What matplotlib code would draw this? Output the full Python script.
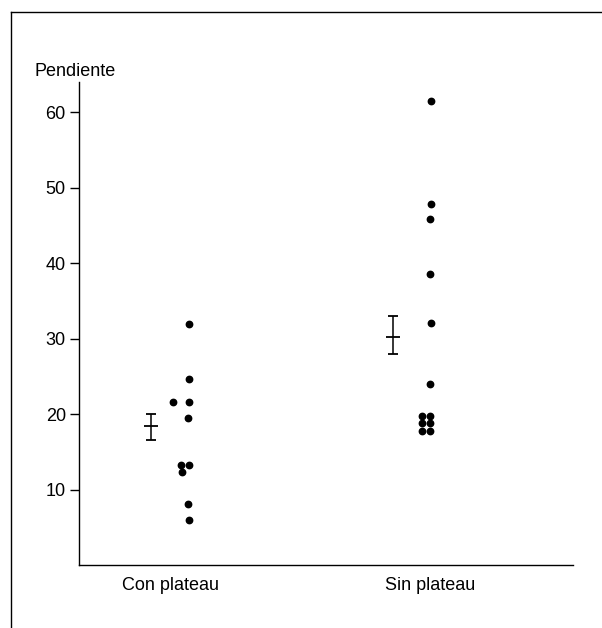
import numpy as np
import matplotlib
matplotlib.use("Agg")
import matplotlib.pyplot as plt
from matplotlib.lines import Line2D

plt.rcParams['font.family'] = ['Liberation Sans', 'DejaVu Sans']

# data
categories = ["Con plateau", "Sin plateau"]
cat_pos = [1.86, 7.1]

con_values = [31.9, 24.6, 21.6, 21.6, 19.5, 13.2, 13.2, 12.3, 8.1, 6.0]
con_x = [2.22, 2.22, 1.90, 2.22, 2.20, 2.06, 2.22, 2.08, 2.20, 2.22]

sin_values = [61.5, 47.8, 45.8, 38.5, 32.1, 24.0, 19.7, 19.7, 18.8, 18.8, 17.7, 17.7]
sin_x = [7.12, 7.12, 7.10, 7.10, 7.12, 7.10, 6.94, 7.10, 6.94, 7.10, 6.94, 7.10]

# mean +/- error
mean_x = [1.46, 6.35]
means = [18.4, 30.2]
err_low = [1.8, 2.3]
err_high = [1.6, 2.8]

fig = plt.figure(figsize=(6.02, 6.28), dpi=100)
ax = fig.add_axes([79/602, 63/628, (573-79)/602, (565-82)/628])

ax.plot(con_x, con_values, 'o', color='black', markersize=4.6)
ax.plot(sin_x, sin_values, 'o', color='black', markersize=4.6)
ax.errorbar(mean_x, means, yerr=[err_low, err_high], fmt='_', color='black',
            markersize=10, capsize=3.5, elinewidth=1.1, capthick=1.3, mew=1.3)

ax.set_xlim(0, 10)
ax.set_ylim(0, 64)
ax.set_yticks([10, 20, 30, 40, 50, 60])
ax.set_xticks(cat_pos)
ax.set_xticklabels(categories)
ax.tick_params(axis='y', length=6.5, width=1, labelsize=13, pad=3, direction='out')
ax.tick_params(axis='x', length=0, labelsize=13, pad=9)
for s in ['top', 'right']:
    ax.spines[s].set_visible(False)
for s in ['left', 'bottom']:
    ax.spines[s].set_linewidth(1)

fig.text(35/602, 1 - 72/628, "Pendiente", fontsize=13, va='center', ha='left')

# outer frame
fig.add_artist(Line2D([11/602, 1], [1 - 12/628, 1 - 12/628], color='black', lw=1))
fig.add_artist(Line2D([11/602, 11/602], [0, 1 - 12/628], color='black', lw=1))

fig.savefig("out.png", dpi=100)
